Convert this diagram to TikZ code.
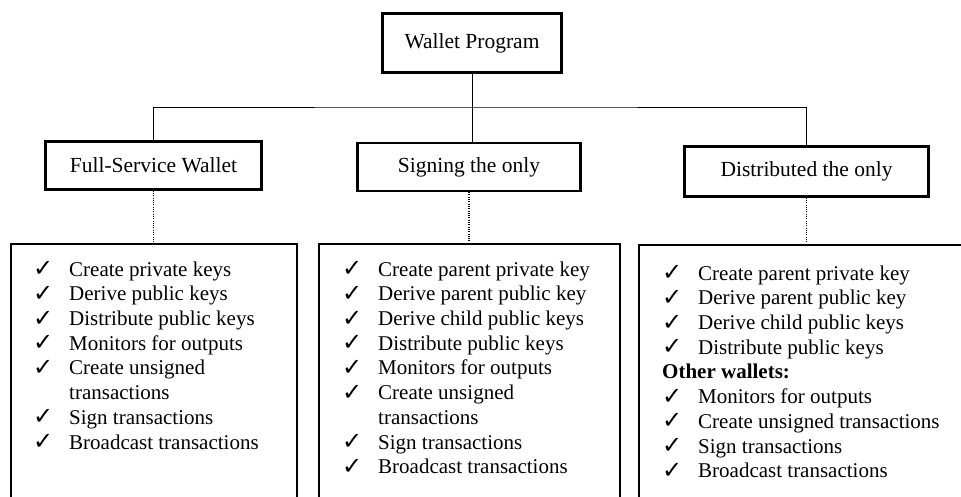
\documentclass[tikz,border=0pt]{standalone}
\usepackage{fontspec}
\setmainfont{Liberation Serif}
\newfontfamily\symfont{DejaVu Sans}
\newcommand\ckm{\makebox[36pt][l]{\symfont\fontsize{24}{24}\selectfont\raisebox{-0.5pt}{✓}}\strut}
\newcommand\indt{\hspace*{36pt}\strut}
\begin{document}
\begin{tikzpicture}[x=1pt,y=-1pt,
  title/.style={draw, line width=2.4pt, inner sep=0pt, font=\fontsize{21.5}{24.7}\selectfont},
  panel/.style={draw, line width=2.4pt, inner sep=0pt, outer sep=0pt, anchor=north, minimum height=320pt},
  link/.style={line width=0.9pt},
  dots/.style={line width=1.3pt, dash pattern=on 1pt off 1.3pt},
  list/.style={align=left, anchor=north west, inner sep=0pt, font=\fontsize{21}{24.7}\selectfont}]
\useasboundingbox (0,0) rectangle (961,497);
\clip (0,0) rectangle (961,497);
% title boxes
\node[title, minimum width=179pt, minimum height=59pt] (wp) at (472,43) {Wallet Program};
\node[title, minimum width=216pt, minimum height=48pt] (fs) at (153.5,165.5) {Full-Service Wallet};
\node[title, minimum width=223pt, minimum height=48pt] (sg) at (469,167) {Signing the only};
\node[title, minimum width=244pt, minimum height=50pt] (ds) at (806.5,171.5) {Distributed the only};
% tree connectors
\coordinate (bus) at (472,107);
\draw[link] (wp.south) -- (wp.south |- sg.north);
\draw[link] (fs.north) |- (bus) -| (ds.north);
% lower panels
\node[panel, minimum width=286pt] (p1) at (154,244) {};
\node[panel, minimum width=301pt] (p2) at (469.5,244) {};
\node[panel, minimum width=361pt] (p3) at (819.5,245) {};
\draw[dots] (fs.south) -- (fs.south |- p1.north);
\draw[dots] (sg.south) -- (sg.south |- p2.north);
\draw[dots] (ds.south) -- (ds.south |- p3.north);
% lists
\node[list] (l1) at (33,258.7) {%
\ckm Create private keys\\
\ckm Derive public keys\\
\ckm Distribute public keys\\
\ckm Monitors for outputs\\
\ckm Create unsigned\\
\indt transactions\\
\ckm Sign transactions\\
\ckm Broadcast transactions};
\node[list] (l2) at (342,258.7) {%
\ckm Create parent private key\\
\ckm Derive parent public key\\
\ckm Derive child public keys\\
\ckm Distribute public keys\\
\ckm Monitors for outputs\\
\ckm Create unsigned\\
\indt transactions\\
\ckm Sign transactions\\
\ckm Broadcast transactions};
\node[list] (l3) at (662,262.7) {%
\ckm Create parent private key\\
\ckm Derive parent public key\\
\ckm Derive child public keys\\
\ckm Distribute public keys\\
\textbf{Other wallets:}\strut\\
\ckm Monitors for outputs\\
\ckm Create unsigned transactions\\
\ckm Sign transactions\\
\ckm Broadcast transactions};
\end{tikzpicture}
\end{document}
